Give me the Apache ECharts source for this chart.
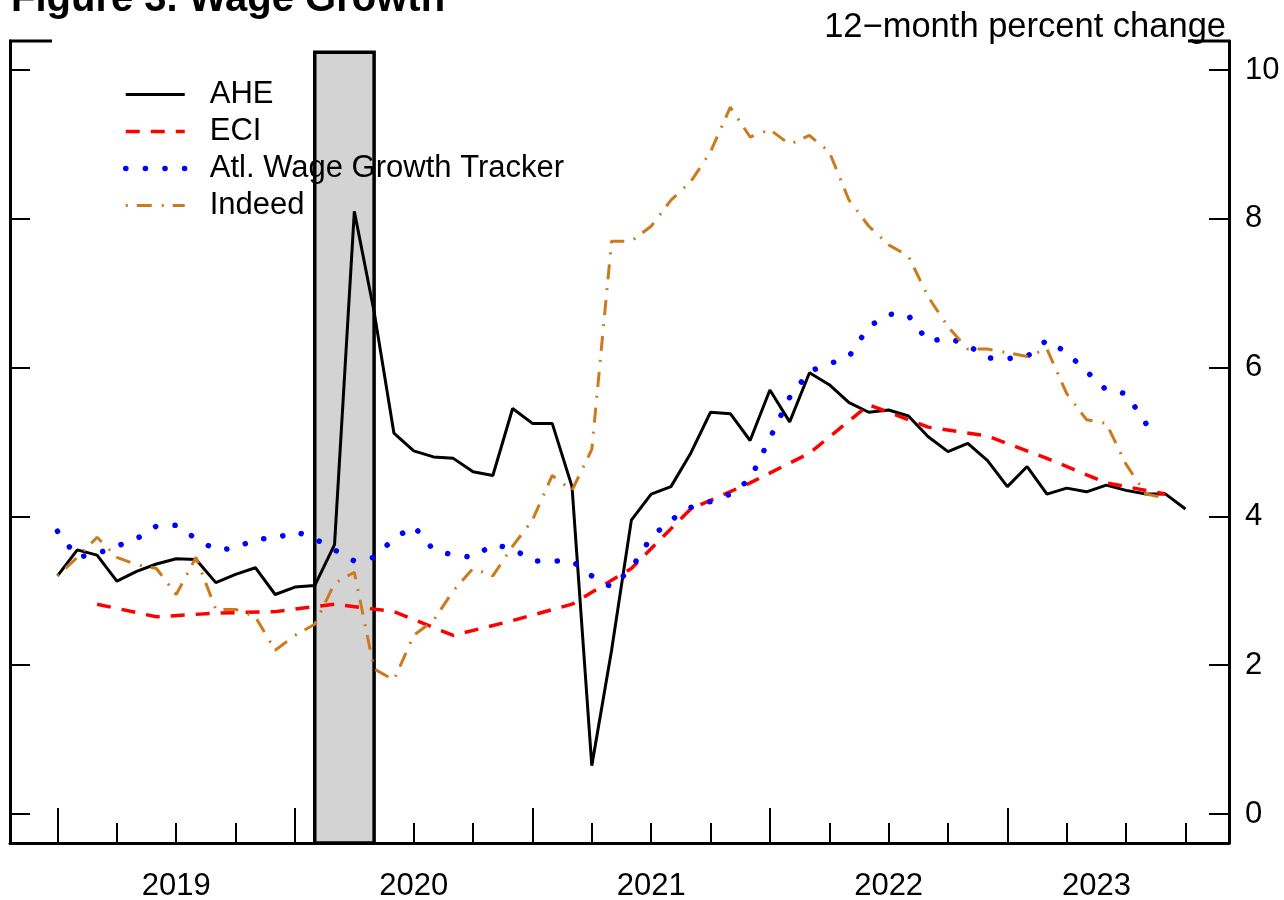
<!DOCTYPE html>
<html>
<head>
<meta charset="utf-8">
<script src="https://cdn.jsdelivr.net/npm/echarts@6/dist/echarts.min.js"></script>
<style>
  html, body { margin: 0; padding: 0; background: #fff; }
  #chart { width: 1284px; height: 900px; }
</style>
</head>
<body>
<div id="chart"></div>
<script>
// month index: 0 = Jan 2019
const ahe = [3.2, 3.55, 3.48, 3.13, 3.26, 3.36, 3.43, 3.42, 3.11, 3.22, 3.31, 2.95,
  3.05, 3.07, 3.62, 8.1, 6.75, 5.12, 4.88, 4.8, 4.78, 4.6, 4.55, 5.45,
  5.25, 5.25, 4.4, 0.65, 2.2, 3.95, 4.3, 4.4, 4.85, 5.4, 5.38, 5.02,
  5.7, 5.27, 5.93, 5.77, 5.53, 5.4, 5.43, 5.35, 5.07, 4.87, 4.98, 4.75,
  4.4, 4.67, 4.3, 4.38, 4.33, 4.42, 4.35, 4.3, 4.3, 4.1];

const eciMonths = [2, 5, 8, 11, 14, 17, 20, 23, 26, 29, 32, 35, 38, 41, 44, 47, 50, 53, 56];
const eci = [2.82, 2.65, 2.7, 2.72, 2.82, 2.72, 2.4, 2.6, 2.82, 3.3, 4.1, 4.45, 4.85, 5.5, 5.2, 5.08, 4.78, 4.45, 4.3];

const atl = [3.8, 3.45, 3.5, 3.6, 3.7, 3.87, 3.88, 3.7, 3.55, 3.57, 3.7, 3.7,
  3.8, 3.7, 3.55, 3.4, 3.45, 3.7, 3.87, 3.55, 3.48, 3.45, 3.62, 3.57,
  3.4, 3.4, 3.4, 3.2, 3.05, 3.3, 3.72, 3.95, 4.12, 4.2, 4.3, 4.5,
  5.05, 5.6, 5.95, 6.05, 6.15, 6.55, 6.72, 6.7, 6.35, 6.4, 6.3, 6.13,
  6.12, 6.15, 6.37, 6.2, 5.95, 5.7, 5.65, 5.25];

const indeed = [3.2, 3.45, 3.72, 3.45, 3.35, 3.3, 2.95, 3.45, 2.75, 2.75, 2.65, 2.2,
  2.4, 2.55, 3.1, 3.25, 1.95, 1.8, 2.4, 2.6, 3.0, 3.3, 3.2, 3.6,
  3.95, 4.55, 4.35, 4.9, 7.7, 7.7, 7.9, 8.25, 8.5, 8.9, 9.5, 9.1,
  9.2, 9.0, 9.12, 8.9, 8.25, 7.9, 7.65, 7.5, 6.95, 6.55, 6.25, 6.25,
  6.2, 6.15, 6.25, 5.65, 5.3, 5.25, 4.7, 4.3, 4.25];

const recession = [13, 16]; // Feb 2020 - Apr 2020
const yearTicks = [0, 12, 24, 36, 48];
const quarterTicks = [0, 3, 6, 9, 12, 15, 18, 21, 24, 27, 30, 33, 36, 39, 42, 45, 48, 51, 54, 57];
const yearLabelPos = [6, 18, 30, 42, 52.5];
const yearLabels = ['2019', '2020', '2021', '2022', '2023'];
const yTicks = [0, 2, 4, 6, 8, 10];

const font = 'Liberation Sans';
const pairs = (xs, ys) => ys.map((v, i) => [xs ? xs[i] : i, v]);

const chart = echarts.init(document.getElementById('chart'));

const xCommon = {
  type: 'value', min: -2.4, max: 59.2, position: 'bottom',
  splitLine: { show: false }
};
const yCommon = {
  type: 'value', min: -0.39, max: 10.39, splitLine: { show: false },
  axisLine: { show: true, onZero: false, lineStyle: { color: '#000', width: 3 } },
  axisTick: { show: true, inside: true, length: 20, customValues: yTicks, lineStyle: { color: '#000', width: 2 } }
};

chart.setOption({
  animation: false,
  textStyle: { fontFamily: font },
  title: [
    { text: 'Figure 3. Wage Growth', left: 6, top: -25,
      textStyle: { fontFamily: font, fontSize: 40, fontWeight: 'bold', color: '#000' } },
    { text: '12\u2212month percent change', right: 53, top: 5,
      textStyle: { fontFamily: font, fontSize: 34.5, fontWeight: 'normal', color: '#000' } }
  ],
  grid: { left: 10, right: 55, top: 41, bottom: 57, outerBoundsMode: 'none', containLabel: false },
  legend: {
    orient: 'vertical', left: 123, top: 76, padding: 0, itemGap: 0,
    itemWidth: 59, itemHeight: 14,
    data: ['AHE', 'ECI', 'Atl. Wage Growth Tracker', 'Indeed'],
    itemStyle: { opacity: 0 },
    lineStyle: { width: 'inherit' },
    textStyle: { fontFamily: font, fontSize: 31, color: '#000', lineHeight: 37, padding: [0, 0, 0, 20] }
  },
  xAxis: [
    Object.assign({}, xCommon, {
      axisLine: { show: true, onZero: false, lineStyle: { color: '#000', width: 3 } },
      axisTick: { show: true, inside: true, length: 20, customValues: quarterTicks, lineStyle: { color: '#000', width: 2 } },
      axisLabel: { show: true, customValues: yearLabelPos, margin: 28, fontSize: 31, color: '#000', fontFamily: font,
        formatter: v => yearLabels[yearLabelPos.indexOf(v)] }
    }),
    Object.assign({}, xCommon, {
      axisLine: { show: false, onZero: false },
      axisTick: { show: true, inside: true, length: 35, customValues: yearTicks, lineStyle: { color: '#000', width: 2 } },
      axisLabel: { show: false }
    })
  ],
  yAxis: [
    Object.assign({}, yCommon, {
      position: 'right',
      axisLabel: { show: true, customValues: yTicks, margin: 16, fontSize: 31, color: '#000', fontFamily: font }
    }),
    Object.assign({}, yCommon, {
      position: 'left',
      axisLabel: { show: false }
    })
  ],
  graphic: [
    { type: 'line', shape: { x1: 9, y1: 41, x2: 52, y2: 41 }, style: { stroke: '#000', lineWidth: 3 } },
    { type: 'line', shape: { x1: 1188, y1: 41, x2: 1230, y2: 41 }, style: { stroke: '#000', lineWidth: 3 } }
  ],
  series: [
    {
      name: 'recession', type: 'line', data: [], z: 1, silent: true,
      markArea: {
        silent: true,
        itemStyle: { color: '#d3d3d3', borderColor: '#000', borderWidth: 3.5 },
        data: [[{ xAxis: recession[0], yAxis: -0.39 }, { xAxis: recession[1], yAxis: 10.24 }]]
      }
    },
    {
      name: 'AHE', type: 'line', data: pairs(null, ahe), symbol: 'none',
      lineStyle: { color: '#000', width: 3 }, itemStyle: { color: '#000' }
    },
    {
      name: 'ECI', type: 'line', data: pairs(eciMonths, eci), symbol: 'none',
      lineStyle: { color: '#ff0000', width: 3.5, type: [14, 11] }, itemStyle: { color: '#ff0000' }
    },
    {
      name: 'Atl. Wage Growth Tracker', type: 'line', data: pairs(null, atl), symbol: 'none',
      lineStyle: { color: '#0000ff', width: 5.5, type: [0.1, 19.5], cap: 'round' }, itemStyle: { color: '#0000ff' }
    },
    {
      name: 'Indeed', type: 'line', data: pairs(null, indeed), symbol: 'none',
      lineStyle: { color: '#cc7a1c', width: 3, type: [2, 9, 15, 10] }, itemStyle: { color: '#cc7a1c' }
    }
  ]
});
</script>
</body>
</html>
